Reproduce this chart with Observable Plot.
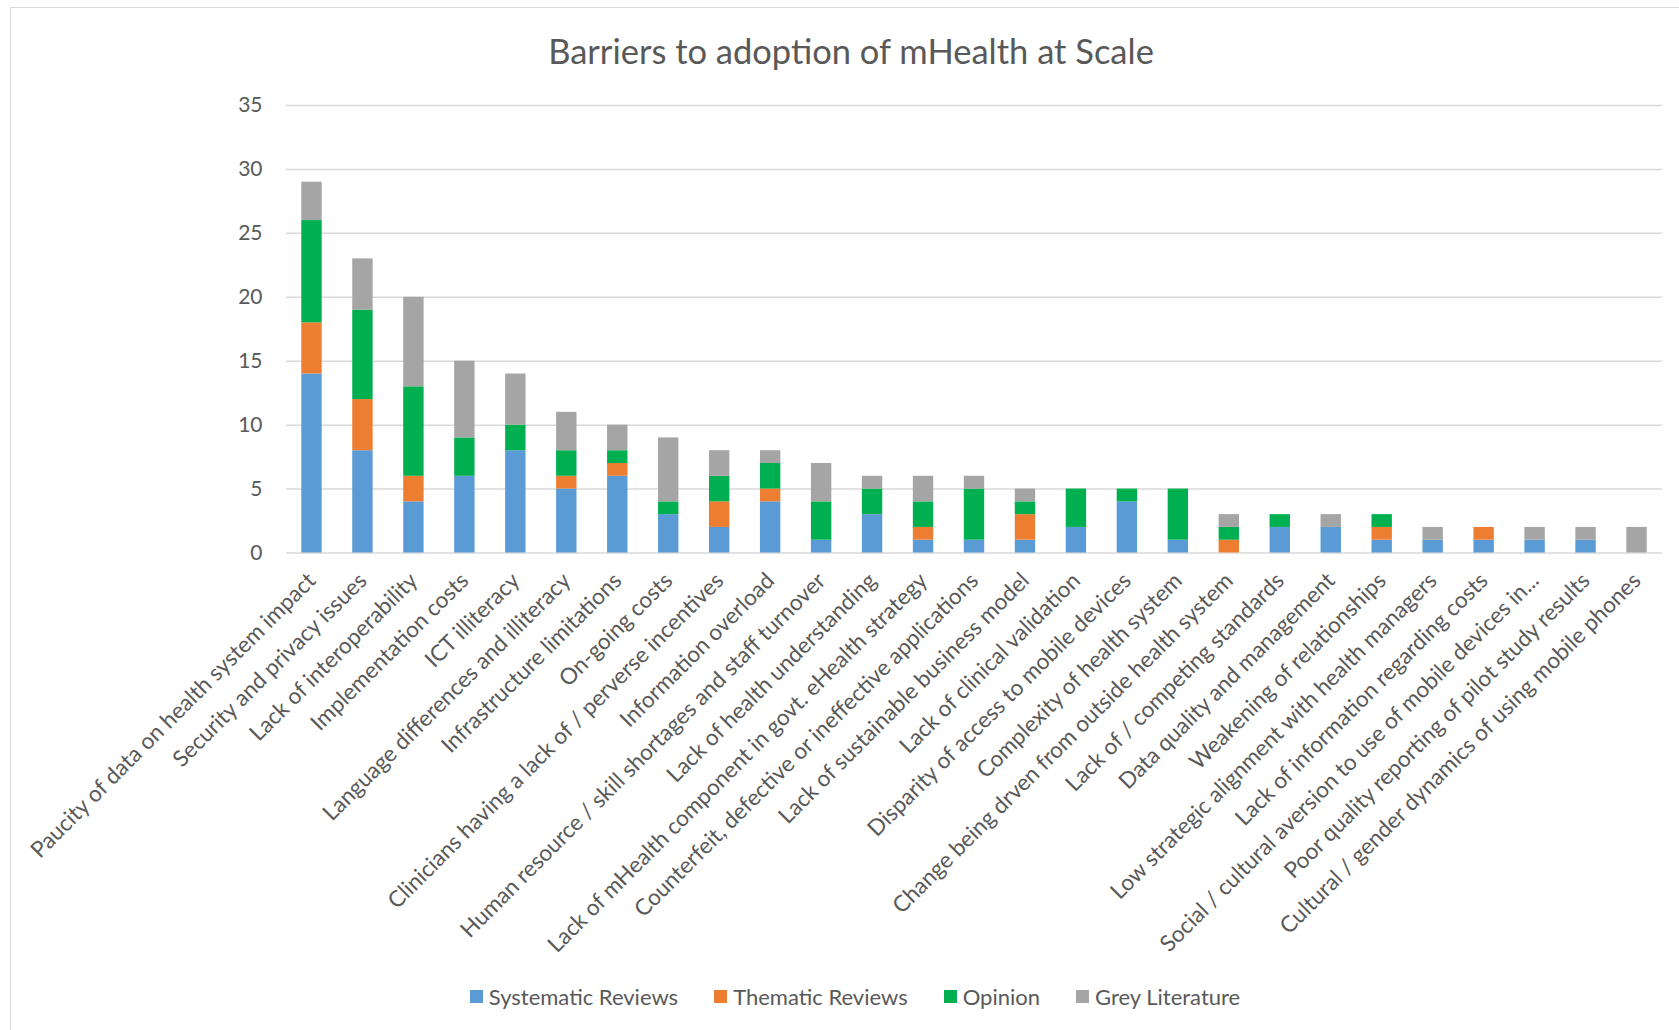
<!DOCTYPE html>
<html>
<head>
<meta charset="utf-8">
<script src="https://cdn.jsdelivr.net/npm/d3@7"></script>
<script src="https://cdn.jsdelivr.net/npm/@observablehq/plot@0.6"></script>
<style>
  html, body { margin: 0; padding: 0; background: #fff; }
  body { width: 1679px; height: 1030px; overflow: hidden; position: relative; font-family: Lato, "Open Sans", sans-serif; color: #595959; }
  #frame { position: absolute; left: 10px; top: 7px; width: 1668px; height: 1022px; border-left: 1.5px solid #d9d9d9; border-top: 1.5px solid #d9d9d9; overflow: hidden; }
  #title { height: 80px; line-height: 86px; text-align: center; padding-left: 12px; font-size: 34.5px; color: #595959; white-space: nowrap; }
  #chart svg { display: block; }
  #legend { height: 72px; margin-top: 2px; display: flex; justify-content: center; align-items: center; padding-left: 20px; font-size: 22px; color: #595959; gap: 36px; }
  .item { display: flex; align-items: center; }
  .sw { width: 13px; height: 13px; margin-right: 6px; }
</style>
</head>
<body>
<div id="frame">
  <div id="title"></div>
  <div id="chart"></div>
  <div id="legend"></div>
</div>
<script>
const chartTitle = "Barriers to adoption of mHealth at Scale";

const categories = [
  "Paucity of data on health system impact",
  "Security and privacy issues",
  "Lack of interoperability",
  "Implementation costs",
  "ICT illiteracy",
  "Language differences and illiteracy",
  "Infrastructure limitations",
  "On-going costs",
  "Clinicians having a lack of / perverse incentives",
  "Information overload",
  "Human resource / skill shortages and staff turnover",
  "Lack of health understanding",
  "Lack of mHealth component in govt. eHealth strategy",
  "Counterfeit, defective or ineffective applications",
  "Lack of sustainable business model",
  "Lack of clinical validation",
  "Disparity of access to mobile devices",
  "Complexity of health system",
  "Change being drven from outside health system",
  "Lack of / competing standards",
  "Data quality and management",
  "Weakening of relationships",
  "Low strategic alignment with health managers",
  "Lack of information regarding costs",
  "Social / cultural aversion to use of mobile devices in...",
  "Poor quality reporting of pilot study results",
  "Cultural / gender dynamics of using mobile phones"
];

const seriesNames = ["Systematic Reviews", "Thematic Reviews", "Opinion", "Grey Literature"];
const seriesColors = ["#5b9bd5", "#ed7d31", "#00b050", "#a5a5a5"];

const systematicReviews = [14, 8, 4, 6, 8, 5, 6, 3, 2, 4, 1, 3, 1, 1, 1, 2, 4, 1, 0, 2, 2, 1, 1, 1, 1, 1, 0];
const thematicReviews   = [ 4, 4, 2, 0, 0, 1, 1, 0, 2, 1, 0, 0, 1, 0, 2, 0, 0, 0, 1, 0, 0, 1, 0, 1, 0, 0, 0];
const opinion           = [ 8, 7, 7, 3, 2, 2, 1, 1, 2, 2, 3, 2, 2, 4, 1, 3, 1, 4, 1, 1, 0, 1, 0, 0, 0, 0, 0];
const greyLiterature    = [ 3, 4, 7, 6, 4, 3, 2, 5, 2, 1, 3, 1, 2, 1, 1, 0, 0, 0, 1, 0, 1, 0, 1, 0, 1, 1, 2];

const yTicks = [0, 5, 10, 15, 20, 25, 30, 35];

const seriesValues = [systematicReviews, thematicReviews, opinion, greyLiterature];
const rows = categories.flatMap((c, i) =>
  seriesNames.map((s, j) => ({category: c, series: s, value: seriesValues[j][i]}))
);

document.getElementById("title").textContent = chartTitle;

const chart = Plot.plot({
  width: 1668,
  height: 870,
  marginLeft: 275,
  marginRight: 17,
  marginTop: 17,
  marginBottom: 405.5,
  style: {fontFamily: "Lato, 'Open Sans', sans-serif", color: "#595959", background: "transparent"},
  x: {domain: categories, paddingInner: 0.6, paddingOuter: 0.3, round: false, label: null},
  y: {domain: [0, 35], label: null},
  color: {domain: seriesNames, range: seriesColors},
  marks: [
    Plot.gridY(yTicks, {stroke: "#d9d9d9", strokeOpacity: 1, strokeWidth: 1.5}),
    Plot.barY(rows, {x: "category", y: "value", fill: "series"}),
    Plot.axisY(yTicks, {tickSize: 0, tickPadding: 24, fontSize: 21, label: null}),
    Plot.axisX({tickSize: 0, tickPadding: 24, tickRotate: -45, fontSize: 22.5, label: null})
  ]
});
document.getElementById("chart").appendChild(chart);

const legend = document.getElementById("legend");
seriesNames.forEach((s, i) => {
  const item = document.createElement("div");
  item.className = "item";
  const sw = document.createElement("span");
  sw.className = "sw";
  sw.style.background = seriesColors[i];
  const tx = document.createElement("span");
  tx.textContent = s;
  item.appendChild(sw);
  item.appendChild(tx);
  legend.appendChild(item);
});
</script>
</body>
</html>
